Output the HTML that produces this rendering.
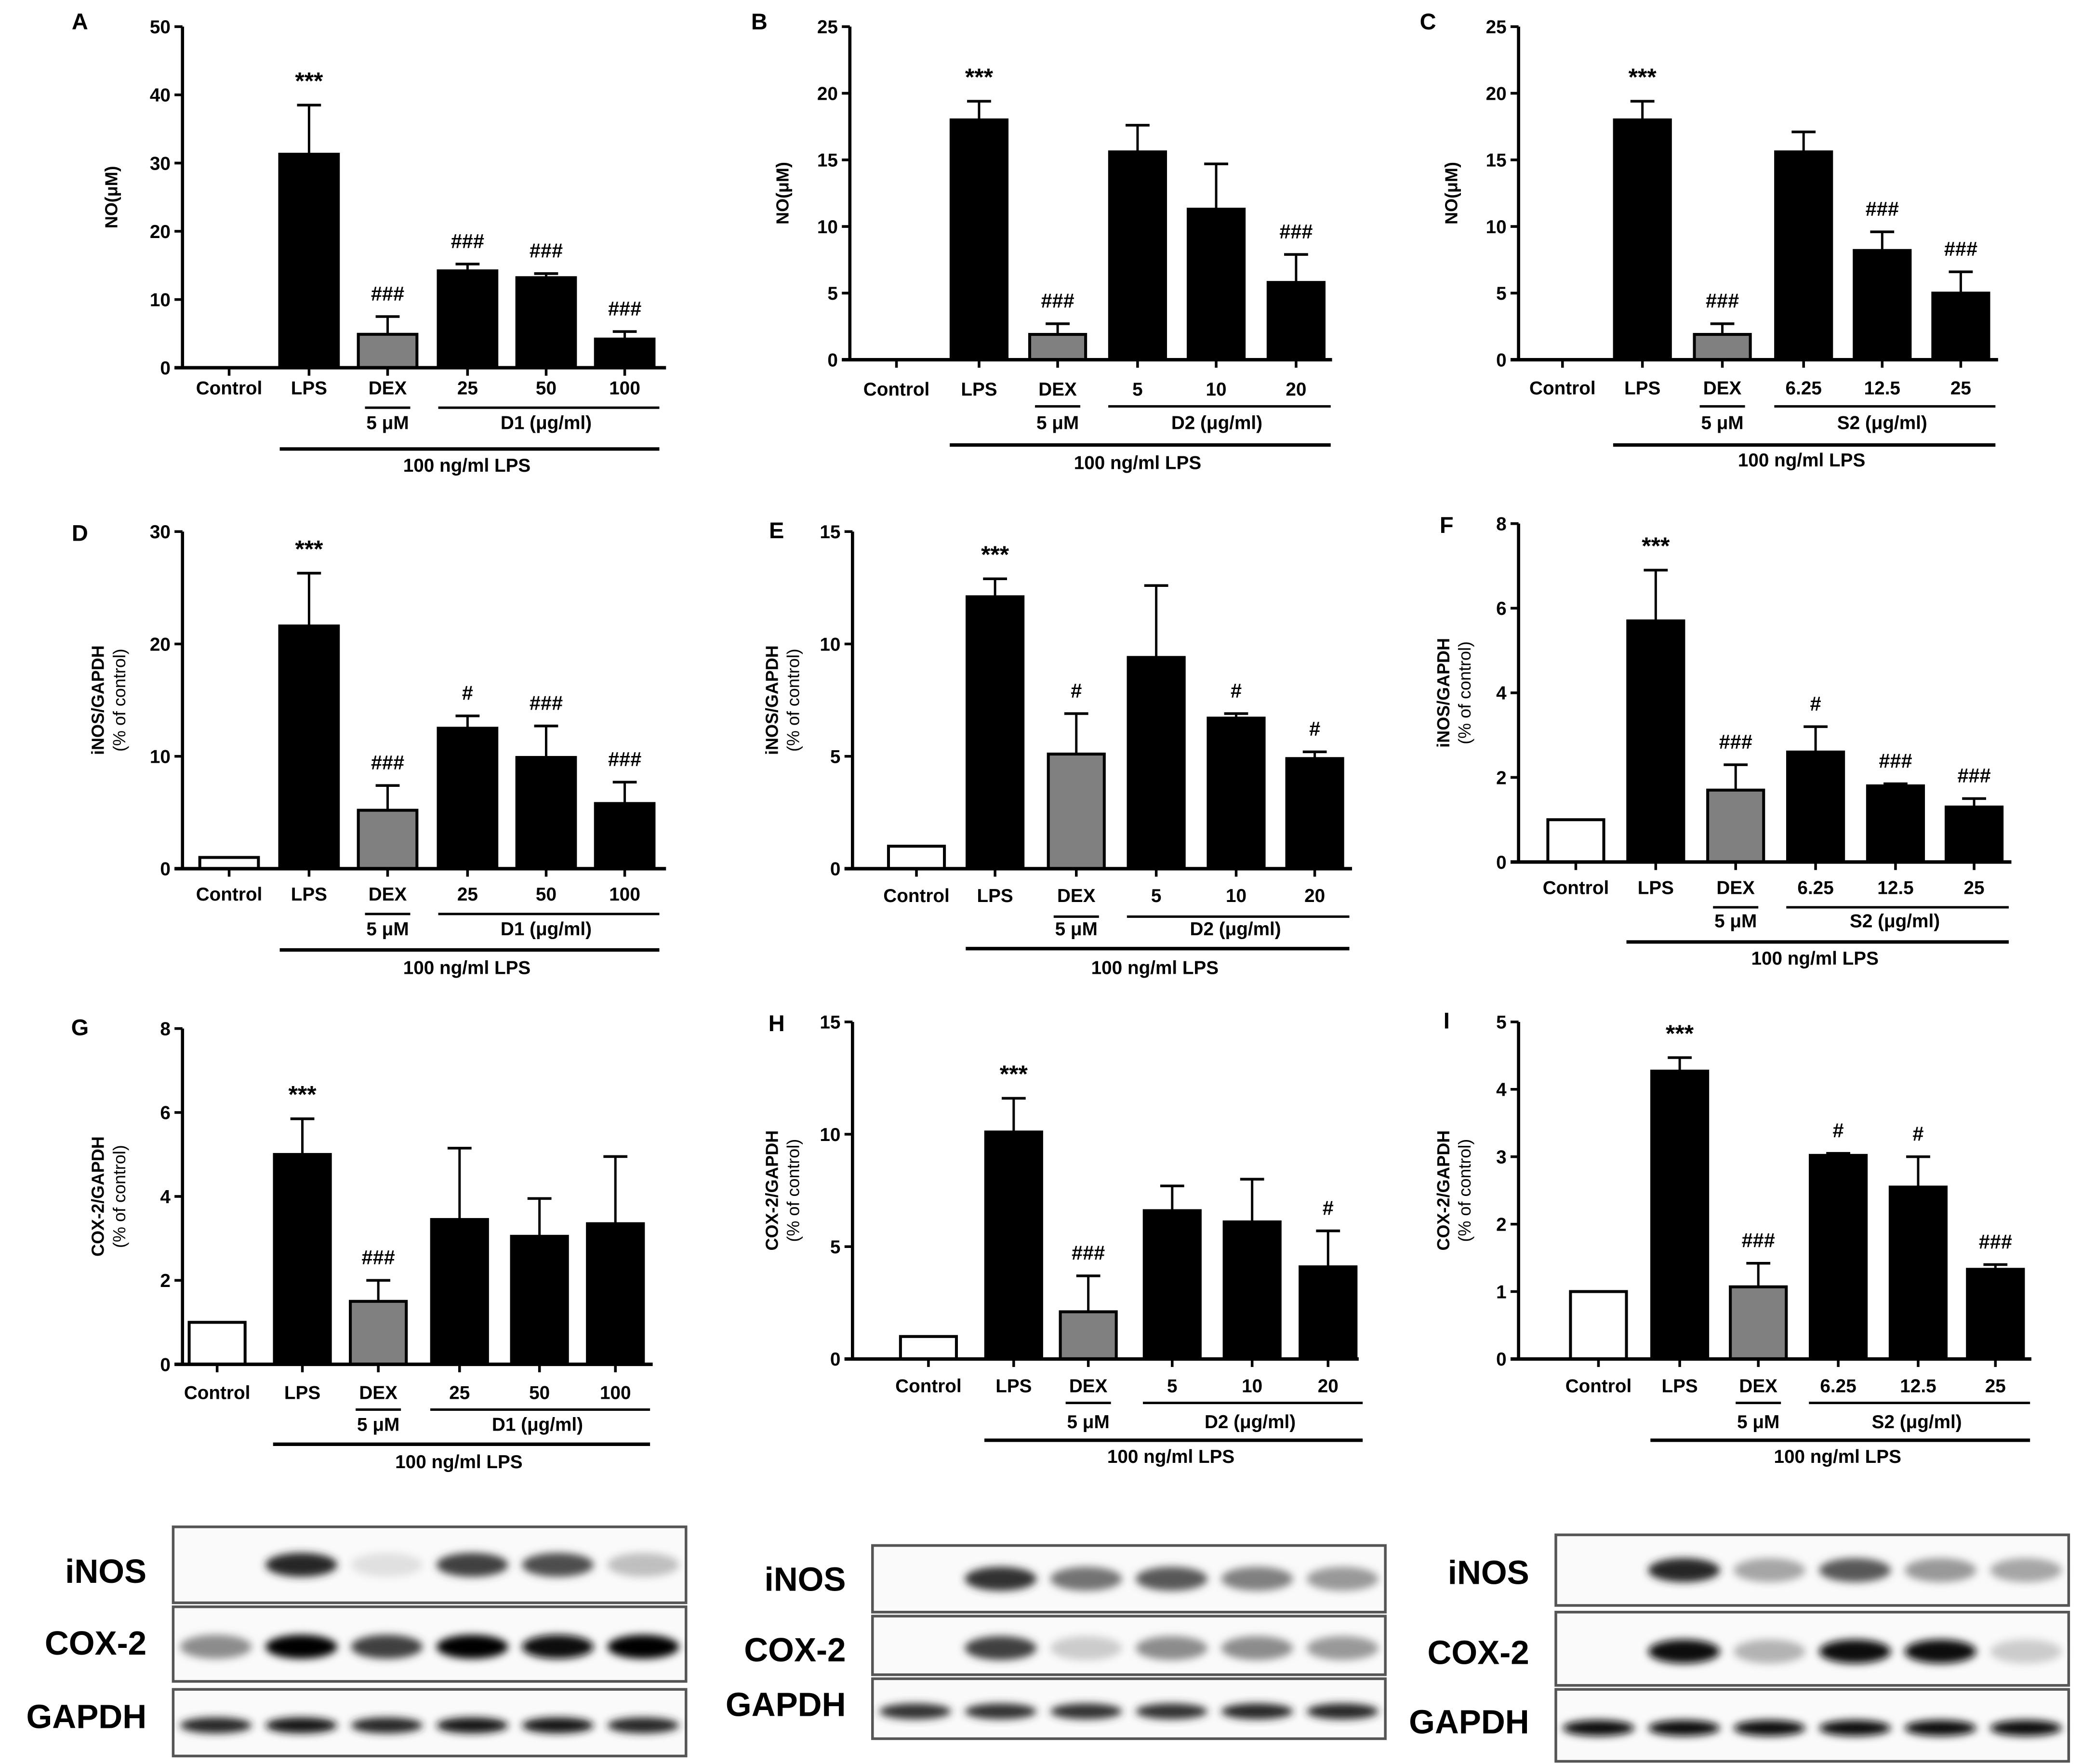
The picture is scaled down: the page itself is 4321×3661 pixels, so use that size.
<!DOCTYPE html>
<html><head><meta charset="utf-8"><style>
html,body{margin:0;padding:0;background:#fff;}
svg{display:block;}
text{font-family:"Liberation Sans",Arial,sans-serif;fill:#000;}
</style></head><body>
<svg id="fig" width="4321" height="3661" viewBox="0 0 1563 1324" preserveAspectRatio="none" xmlns="http://www.w3.org/2000/svg">
<defs><filter id="blur" x="-20%" y="-50%" width="140%" height="200%"><feGaussianBlur stdDeviation="3"/></filter></defs>
</svg>
<script>
// ---- data arrays ----
const noValsA=[0,31.3,4.9,14.2,13.2,4.2]; const noErrA=[0,7.2,2.6,1.0,0.6,1.1];
const noValsB=[0,18,1.9,15.6,11.3,5.8]; const noErrB=[0,1.4,0.8,2.0,3.4,2.1];
const noValsC=[0,18,1.9,15.6,8.2,5.0]; const noErrC=[0,1.4,0.8,1.5,1.4,1.6];
const inosValsD=[1,21.6,5.2,12.5,9.9,5.8]; const inosErrD=[0,4.7,2.2,1.1,2.8,1.9];
const inosValsE=[1,12.1,5.1,9.4,6.7,4.9]; const inosErrE=[0,0.8,1.8,3.2,0.2,0.3];
const inosValsF=[1,5.7,1.7,2.6,1.8,1.3]; const inosErrF=[0,1.2,0.6,0.6,0.05,0.2];
const coxValsG=[1,5.0,1.5,3.45,3.05,3.35]; const coxErrG=[0,0.85,0.5,1.7,0.9,1.6];
const coxValsH=[1,10.1,2.1,6.6,6.1,4.1]; const coxErrH=[0,1.5,1.6,1.1,1.9,1.6];
const coxValsI=[1,4.27,1.07,3.02,2.55,1.33]; const coxErrI=[0,0.2,0.35,0.03,0.45,0.07];
const annA=["","***","###","###","###","###"];
const annB=["","***","###","","","###"];
const annC=["","***","###","","###","###"];
const annD=["","***","###","#","###","###"];
const annE=["","***","#","","#","#"];
const annF=["","***","###","#","###","###"];
const annG=["","***","###","","",""];
const annH=["","***","###","","","#"];
const annI=["","***","###","#","#","###"];
const catsD1=["Control","LPS","DEX","25","50","100"];
const catsD2=["Control","LPS","DEX","5","10","20"];
const catsS2=["Control","LPS","DEX","6.25","12.5","25"];
const blotInos1=[0,0.85,0.12,0.75,0.7,0.25];
const blotCox1=[0.45,1,0.75,1,0.95,1];
const blotGapdh1=[0.85,0.9,0.85,0.9,0.9,0.85];
const blotInos2=[0,0.8,0.55,0.65,0.5,0.4];
const blotCox2=[0,0.75,0.2,0.45,0.45,0.4];
const blotGapdh2=[0.8,0.8,0.8,0.8,0.85,0.85];
const blotInos3=[0,0.85,0.35,0.65,0.4,0.35];
const blotCox3=[0,0.95,0.3,0.95,0.95,0.2];
const blotGapdh3=[0.95,0.95,0.95,0.95,0.95,0.95];

const svg=document.getElementById('fig');
const NS='http://www.w3.org/2000/svg';
function mk(tag,attrs,parent){const e=document.createElementNS(NS,tag);for(const k in attrs)e.setAttribute(k,attrs[k]);(parent||svg).appendChild(e);return e;}
function txt(s,x,y,size,anchor,weight,parent){const t=mk('text',{x:x,y:y,'font-size':size,'text-anchor':anchor||'middle','font-weight':weight||'bold'},parent);t.textContent=s;return t;}

const panels=[
 {id:'a',letter:'A',lx:60,ly:22,ax:137,y0:276,top:20,max:50,step:10,cx:[172,232,291,351,410,469],bw:44,end:500,vals:noValsA,errs:noErrA,ann:annA,cats:catsD1,agent:'D1 (μg/ml)',ctrlWhite:false,yt:['NO(μM)'],ytx:88,lab:296,ul:306,sub:322,ll:337,lt:354},
 {id:'b',letter:'B',lx:570,ly:22,ax:638,y0:270,top:20,max:25,step:5,cx:[673,735,794,854,913,973],bw:42,end:1000,vals:noValsB,errs:noErrB,ann:annB,cats:catsD2,agent:'D2 (μg/ml)',ctrlWhite:false,yt:['NO(μM)'],ytx:592,lab:297,ul:305,sub:322,ll:334,lt:352},
 {id:'c',letter:'C',lx:1072,ly:22,ax:1140,y0:270,top:20,max:25,step:5,cx:[1173,1233,1293,1354,1413,1472],bw:42,end:1500,vals:noValsC,errs:noErrC,ann:annC,cats:catsS2,agent:'S2 (μg/ml)',ctrlWhite:false,yt:['NO(μM)'],ytx:1094,lab:296,ul:305,sub:322,ll:334,lt:350},
 {id:'d',letter:'D',lx:60,ly:406,ax:137,y0:652,top:399,max:30,step:10,cx:[172,232,291,351,410,469],bw:44,end:500,vals:inosValsD,errs:inosErrD,ann:annD,cats:catsD1,agent:'D1 (μg/ml)',ctrlWhite:true,yt:['iNOS/GAPDH','(% of control)'],ytx:78,lab:676,ul:686,sub:702,ll:713,lt:731},
 {id:'e',letter:'E',lx:583,ly:404,ax:640,y0:652,top:399,max:15,step:5,cx:[688,747,808,868,928,987],bw:42,end:1015,vals:inosValsE,errs:inosErrE,ann:annE,cats:catsD2,agent:'D2 (μg/ml)',ctrlWhite:true,yt:['iNOS/GAPDH','(% of control)'],ytx:584,lab:677,ul:688,sub:702,ll:712,lt:731},
 {id:'f',letter:'F',lx:1086,ly:400,ax:1140,y0:647,top:393,max:8,step:2,cx:[1183,1243,1303,1363,1423,1482],bw:42,end:1510,vals:inosValsF,errs:inosErrF,ann:annF,cats:catsS2,agent:'S2 (μg/ml)',ctrlWhite:true,yt:['iNOS/GAPDH','(% of control)'],ytx:1088,lab:671,ul:681,sub:696,ll:707,lt:724},
 {id:'g',letter:'G',lx:60,ly:777,ax:137,y0:1024,top:772,max:8,step:2,cx:[163,227,284,345,405,462],bw:42,end:490,vals:coxValsG,errs:coxErrG,ann:annG,cats:catsD1,agent:'D1  (μg/ml)',ctrlWhite:true,yt:['COX-2/GAPDH','(% of control)'],ytx:78,lab:1050,ul:1058,sub:1074,ll:1084,lt:1102},
 {id:'h',letter:'H',lx:583,ly:774,ax:640,y0:1020,top:767,max:15,step:5,cx:[697,761,817,880,940,997],bw:42,end:1020,vals:coxValsH,errs:coxErrH,ann:annH,cats:catsD2,agent:'D2  (μg/ml)',ctrlWhite:true,yt:['COX-2/GAPDH','(% of control)'],ytx:584,lab:1045,ul:1053,sub:1072,ll:1081,lt:1098},
 {id:'i',letter:'I',lx:1086,ly:772,ax:1140,y0:1020,top:767,max:5,step:1,cx:[1200,1261,1320,1380,1440,1498],bw:42,end:1525,vals:coxValsI,errs:coxErrI,ann:annI,cats:catsS2,agent:'S2 (μg/ml)',ctrlWhite:true,yt:['COX-2/GAPDH','(% of control)'],ytx:1088,lab:1045,ul:1053,sub:1072,ll:1081,lt:1098}
];

panels.forEach(p=>{
 const g=mk('g',{});
 
 
 const yS=v=>p.y0-(v/p.max)*(p.y0-p.top);
 const pl=txt(p.letter,p.lx,p.ly,17,'middle','bold',g);
 
 
 const ya=mk('line',{x1:p.ax,y1:p.top,x2:p.ax,y2:p.y0+1,stroke:'#000','stroke-width':2.4},g);
 
 
 for(let v=0;v<=p.max+1e-9;v+=p.step){
  const y=yS(v);
  mk('line',{x1:p.ax-6,y1:y,x2:p.ax,y2:y,stroke:'#000','stroke-width':2},g);
  const tl=txt(String(v),p.ax-9,y+5,14,'end','bold',g);
  
  
 }
 const midY=(p.y0+p.top)/2;
 p.yt.forEach((s,i)=>{
  const t=txt(s,p.ytx+i*16,midY,13,'middle',i==0?'bold':'normal',g);
  t.setAttribute('transform','rotate(-90 '+(p.ytx+i*16)+' '+midY+')');
  
  
 });
 p.vals.forEach((v,i)=>{
  const x=p.cx[i], h=p.y0-yS(v), yt=yS(v);
  let fill=i==2?'#808080':'#000';
  if(i==0&&p.ctrlWhite) fill='#fff';
  if(v>0){
   const r=mk('rect',{x:x-p.bw/2,y:yt,width:p.bw,height:h,fill:fill,stroke:'#000','stroke-width':2.2},g);
   
   
  }
  const e=p.errs[i];
  if(e>0){
   const ye=yS(v+e);
   mk('line',{x1:x,y1:yt,x2:x,y2:ye,stroke:'#000','stroke-width':1.8},g);
   mk('line',{x1:x-9,y1:ye,x2:x+9,y2:ye,stroke:'#000','stroke-width':2},g);
  }
  if(p.ann[i]){
   const a=txt(p.ann[i],x,yS(v+e)-12,p.ann[i]=='***'?18:15,'middle','bold',g);
   
   
  }
  mk('line',{x1:x,y1:p.y0,x2:x,y2:p.y0+6,stroke:'#000','stroke-width':2},g);
  const cl=txt(p.cats[i],x,p.lab,14,'middle','bold',g);
  
  
 });
 const xa=mk('line',{x1:p.ax-6,y1:p.y0,x2:p.end,y2:p.y0,stroke:'#000','stroke-width':2.6},g);
 
 
 mk('line',{x1:p.cx[2]-17,y1:p.ul,x2:p.cx[2]+17,y2:p.ul,stroke:'#000','stroke-width':1.8},g);
 txt('5 μM',p.cx[2],p.sub,14,'middle','bold',g);
 mk('line',{x1:p.cx[3]-22,y1:p.ul,x2:p.cx[5]+26,y2:p.ul,stroke:'#000','stroke-width':1.8},g);
 const ag=txt(p.agent,(p.cx[3]+p.cx[5])/2,p.sub,14,'middle','bold',g);
 
 
 mk('line',{x1:p.cx[1]-22,y1:p.ll,x2:p.cx[5]+26,y2:p.ll,stroke:'#000','stroke-width':2.6},g);
 const lp=txt('100 ng/ml LPS',(p.cx[1]+p.cx[5])/2,p.lt,14,'middle','bold',g);
 
 
});

const blots=[
 {id:1,x0:130,x1:515,rows:[[1146,1203],[1206,1262],[1268,1318]],lab:110,ly:[1188,1242,1297],data:[blotInos1,blotCox1,blotGapdh1]},
 {id:2,x0:655,x1:1040,rows:[[1160,1210],[1213,1257],[1260,1305]],lab:635,ly:[1194,1247,1288],data:[blotInos2,blotCox2,blotGapdh2]},
 {id:3,x0:1168,x1:1553,rows:[[1152,1205],[1210,1265],[1268,1322]],lab:1148,ly:[1189,1249,1301],data:[blotInos3,blotCox3,blotGapdh3]}
];
const names=['iNOS','COX-2','GAPDH'];
blots.forEach(b=>{
 const g=mk('g',{});
 
 
 const lw=(b.x1-b.x0)/6;
 b.rows.forEach((r,ri)=>{
  const box=mk('rect',{x:b.x0,y:r[0],width:b.x1-b.x0,height:r[1]-r[0],fill:'#fafafa',stroke:'#555','stroke-width':2},g);
  
  
  const cy=(r[0]+r[1])/2+(ri==0?0:2);
  b.data[ri].forEach((v,li)=>{
   if(v<=0)return;
   const c=Math.round(255*(1-v));
   const el=mk('ellipse',{cx:b.x0+lw*(li+0.5),cy:cy,rx:lw*0.42,ry:ri==2?6:9,fill:'rgb('+c+','+c+','+c+')',filter:'url(#blur)'},g);
   
   
  });
  const t=txt(names[ri],b.lab,b.ly[ri],25,'end','bold',g);
  
  
 });
});
</script>
</body></html>
